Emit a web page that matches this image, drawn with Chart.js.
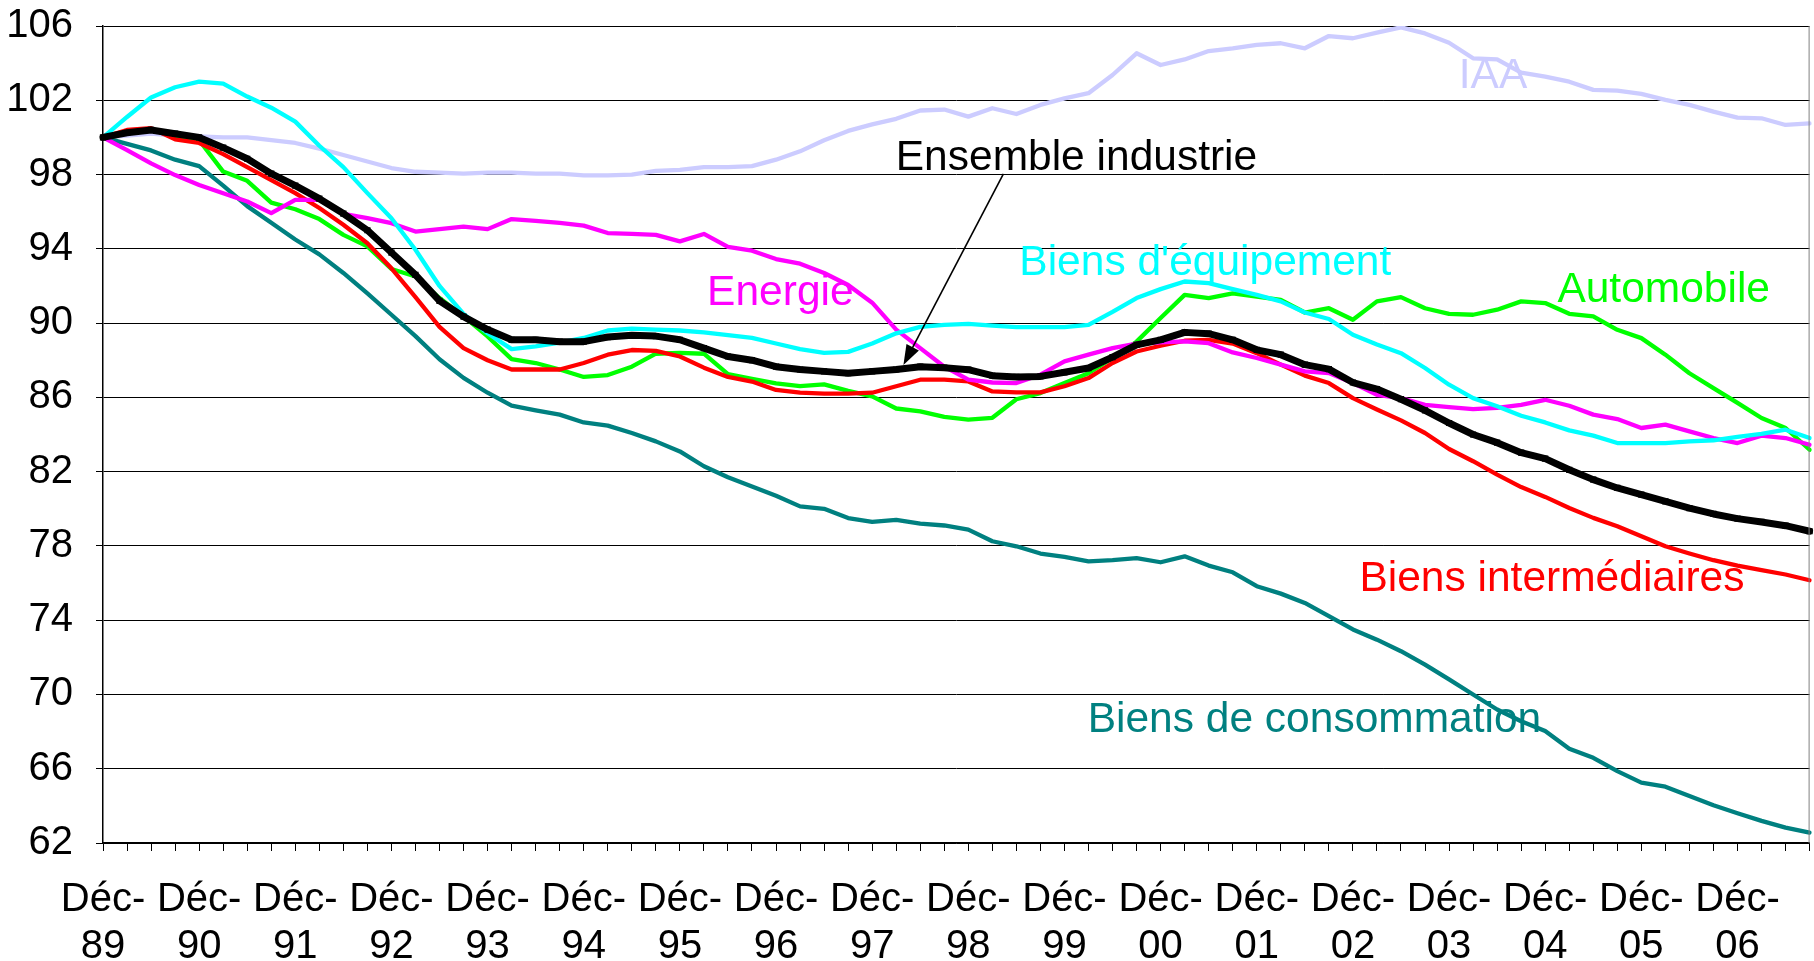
<!DOCTYPE html>
<html>
<head>
<meta charset="utf-8">
<script src="https://cdn.jsdelivr.net/npm/chart.js@4.4.1/dist/chart.umd.min.js"></script>
<style>
  html, body { margin: 0; padding: 0; background: #ffffff; }
  #wrap { width: 1814px; height: 961px; }
</style>
</head>
<body>
<div id="wrap"><canvas id="c" width="1814" height="961"></canvas></div>
<script>
// Quarterly categories, Déc-89 .. Sept-07
const categories = [
  'Déc-89','Mars-90','Juin-90','Sept-90','Déc-90','Mars-91','Juin-91','Sept-91',
  'Déc-91','Mars-92','Juin-92','Sept-92','Déc-92','Mars-93','Juin-93','Sept-93',
  'Déc-93','Mars-94','Juin-94','Sept-94','Déc-94','Mars-95','Juin-95','Sept-95',
  'Déc-95','Mars-96','Juin-96','Sept-96','Déc-96','Mars-97','Juin-97','Sept-97',
  'Déc-97','Mars-98','Juin-98','Sept-98','Déc-98','Mars-99','Juin-99','Sept-99',
  'Déc-99','Mars-00','Juin-00','Sept-00','Déc-00','Mars-01','Juin-01','Sept-01',
  'Déc-01','Mars-02','Juin-02','Sept-02','Déc-02','Mars-03','Juin-03','Sept-03',
  'Déc-03','Mars-04','Juin-04','Sept-04','Déc-04','Mars-05','Juin-05','Sept-05',
  'Déc-05','Mars-06','Juin-06','Sept-06','Déc-06','Mars-07','Juin-07','Sept-07'
];

// Labels shown on the x axis (December of each year)
const tickLabels = ['Déc-89','Déc-90','Déc-91','Déc-92','Déc-93','Déc-94','Déc-95','Déc-96','Déc-97',
  'Déc-98','Déc-99','Déc-00','Déc-01','Déc-02','Déc-03','Déc-04','Déc-05','Déc-06'];

const yTicks = [62, 66, 70, 74, 78, 82, 86, 90, 94, 98, 102, 106];

const ensembleIndustrie = [
  100, 100.25, 100.4, 100.2, 100.0, 99.45, 98.85, 98.05,
  97.4, 96.7, 95.9, 95.0, 93.8, 92.6, 91.2, 90.35,
  89.65, 89.1, 89.1, 89.0, 89.0, 89.25, 89.35, 89.3,
  89.1, 88.65, 88.2, 88.0, 87.65, 87.5, 87.4, 87.3,
  87.4, 87.5, 87.65, 87.6, 87.49, 87.17, 87.1, 87.13,
  87.35, 87.58, 88.17, 88.83, 89.1, 89.5, 89.43, 89.1,
  88.56, 88.3, 87.76, 87.52, 86.8, 86.45, 85.9, 85.3,
  84.62, 84.0, 83.56, 83.02, 82.7, 82.1, 81.57, 81.12,
  80.76, 80.4, 80.04, 79.72, 79.47, 79.29, 79.09, 78.79
];

const biensEquipement = [
  100, 101.1, 102.15, 102.7, 103.0, 102.9, 102.2, 101.6,
  100.85, 99.55, 98.4, 97.0, 95.65, 93.95, 92.0, 90.5,
  89.45, 88.6, 88.75, 88.95, 89.2, 89.6, 89.7, 89.65,
  89.6, 89.5, 89.35, 89.2, 88.9, 88.6, 88.4, 88.45,
  88.9, 89.45, 89.8, 89.9, 89.96, 89.86, 89.78, 89.78,
  89.78, 89.9, 90.6, 91.35, 91.83, 92.24, 92.15, 91.83,
  91.52, 91.17, 90.57, 90.22, 89.37, 88.85, 88.38, 87.58,
  86.68, 85.96, 85.52, 85.01, 84.65, 84.22, 83.94, 83.54,
  83.54, 83.54, 83.63, 83.69, 83.87, 84.03, 84.26, 83.81
];

const biensIntermediaires = [
  100, 100.4, 100.5, 99.9, 99.7, 99.1, 98.4, 97.7,
  97.0, 96.2, 95.3, 94.3, 92.95, 91.4, 89.8, 88.65,
  88.0, 87.5, 87.5, 87.5, 87.85, 88.3, 88.55, 88.5,
  88.2, 87.6, 87.1, 86.85, 86.4, 86.25, 86.2, 86.2,
  86.25, 86.6, 86.95, 86.95, 86.86, 86.32, 86.27, 86.27,
  86.6, 87.04, 87.85, 88.47, 88.78, 89.05, 89.1, 88.9,
  88.38, 87.76, 87.17, 86.77, 85.96, 85.35, 84.76, 84.08,
  83.22, 82.56, 81.84, 81.17, 80.64, 80.04, 79.51, 79.06,
  78.52, 77.98, 77.59, 77.23, 76.94, 76.69, 76.46, 76.15
];

const energie = [
  100, 99.32, 98.6, 97.97, 97.44, 96.99, 96.55, 95.92,
  96.64, 96.64, 95.88, 95.65, 95.38, 94.93, 95.06, 95.2,
  95.06, 95.6, 95.5, 95.4, 95.25, 94.85, 94.8, 94.75,
  94.4, 94.8, 94.1, 93.9, 93.45, 93.2, 92.7, 92.05,
  91.1, 89.65, 88.65, 87.65, 86.95, 86.8, 86.77, 87.22,
  87.94, 88.3, 88.65, 88.9, 88.96, 89.01, 88.92, 88.42,
  88.12, 87.76, 87.4, 87.31, 86.77, 86.14, 85.96, 85.6,
  85.48, 85.37, 85.43, 85.6, 85.87, 85.55, 85.07, 84.83,
  84.35, 84.53, 84.17, 83.81, 83.54, 83.94, 83.81, 83.45
];

const automobile = [
  100, 100.25, 100.4, 100.1, 99.85, 98.16, 97.66, 96.49,
  96.13, 95.6, 94.75, 94.13, 92.91, 92.51, 91.35, 90.36,
  89.28, 88.06, 87.85, 87.5, 87.1, 87.2, 87.65, 88.35,
  88.4, 88.35, 87.25, 87.0, 86.75, 86.6, 86.7, 86.35,
  86.05, 85.4, 85.25, 84.95, 84.8, 84.9, 85.9, 86.23,
  86.77, 87.3, 88.12, 89.0, 90.27, 91.52, 91.35, 91.6,
  91.43, 91.25, 90.57, 90.8, 90.18, 91.17, 91.4, 90.8,
  90.5, 90.45, 90.72, 91.17, 91.08, 90.5, 90.36, 89.64,
  89.19, 88.3, 87.3, 86.5, 85.7, 84.89, 84.35, 83.18
];

const biensConsommation = [
  100, 99.65, 99.3, 98.8, 98.45, 97.4, 96.3, 95.4,
  94.5, 93.7, 92.7, 91.6, 90.45, 89.3, 88.05, 87.05,
  86.25, 85.55, 85.3, 85.07, 84.65, 84.48, 84.08, 83.63,
  83.09, 82.29, 81.7, 81.2, 80.7, 80.13, 80.0, 79.5,
  79.3, 79.4, 79.2, 79.1, 78.88, 78.25, 77.98, 77.59,
  77.41, 77.17, 77.23, 77.34, 77.12, 77.44, 76.94, 76.58,
  75.83, 75.43, 74.93, 74.22, 73.5, 72.95, 72.33, 71.61,
  70.81, 70.0, 69.19, 68.56, 68.03, 67.08, 66.59, 65.87,
  65.25, 65.03, 64.53, 64.03, 63.6, 63.19, 62.83, 62.56
];

const iaa = [
  100, 100.1, 100.2, 100.1, 100.05, 100.0, 100.0, 99.85,
  99.7, 99.4, 99.05, 98.7, 98.35, 98.15, 98.1, 98.05,
  98.1, 98.1, 98.05, 98.05, 97.95, 97.95, 98.0, 98.2,
  98.25, 98.4, 98.4, 98.45, 98.8, 99.25, 99.85, 100.35,
  100.7, 101.0, 101.45, 101.5, 101.12, 101.57, 101.26, 101.75,
  102.1, 102.38, 103.36, 104.53, 103.9, 104.2, 104.65, 104.8,
  104.98, 105.07, 104.8, 105.46, 105.34, 105.64, 105.93, 105.6,
  105.1, 104.26, 104.2, 103.49, 103.27, 103.0, 102.56, 102.52,
  102.34, 102.02, 101.75, 101.39, 101.07, 101.03, 100.67, 100.76
];

const FONT = "'Liberation Sans', Arial, sans-serif";

function line(label, data, color, width) {
  return {
    label, data,
    borderColor: color, backgroundColor: color,
    borderWidth: width, pointRadius: 0, pointHoverRadius: 0,
    tension: 0, borderJoinStyle: 'round', borderCapStyle: 'round', fill: false
  };
}

// first dataset is drawn on top
const datasets = [
  Object.assign(line('Ensemble industrie', ensembleIndustrie, '#000000', 7), {
    pointRadius: 4.4, pointStyle: 'rect', pointBackgroundColor: '#000000', pointBorderWidth: 0
  }),
  line("Biens d'équipement", biensEquipement, '#00FFFF', 4.3),
  line('Energie', energie, '#FF00FF', 4.3),
  line('Biens intermédiaires', biensIntermediaires, '#FF0000', 4.3),
  line('Automobile', automobile, '#00FF00', 4.3),
  line('Biens de consommation', biensConsommation, '#008080', 4.3),
  line('IAA', iaa, '#CCCCFF', 4.3)
];

// Annotation texts anchored in data coordinates (category index, value at text baseline)
const annotations = [
  { text: 'IAA', color: '#CCCCFF', at: [57.83, 102.65] },
  { text: 'Ensemble industrie', color: '#000000', at: [40.5, 98.25] },
  { text: 'Energie', color: '#FF00FF', at: [28.18, 90.98] },
  { text: "Biens d'équipement", color: '#00FFFF', at: [45.86, 92.59] },
  { text: 'Automobile', color: '#00FF00', at: [64.93, 91.15] },
  { text: 'Biens intermédiaires', color: '#FF0000', at: [60.28, 75.59] },
  { text: 'Biens de consommation', color: '#008080', at: [50.4, 68.0] }
];
const arrowFrom = [37.46, 98.03];
const arrowTo = [33.3, 87.74];

const overlay = {
  id: 'overlay',
  afterDatasetsDraw(chart) {
    const { ctx, chartArea, scales: { x, y } } = chart;
    ctx.save();
    // right border of plot area
    ctx.strokeStyle = '#808080';
    ctx.lineWidth = 1;
    ctx.beginPath();
    ctx.moveTo(chartArea.right - 0.5, chartArea.top);
    ctx.lineTo(chartArea.right - 0.5, chartArea.bottom);
    ctx.stroke();

    // texts
    ctx.font = '42.5px ' + FONT;
    ctx.textAlign = 'center';
    ctx.textBaseline = 'alphabetic';
    annotations.forEach(a => {
      ctx.fillStyle = a.color;
      ctx.fillText(a.text, x.getPixelForValue(a.at[0]), y.getPixelForValue(a.at[1]));
    });

    // arrow
    const x1 = x.getPixelForValue(arrowFrom[0]), y1 = y.getPixelForValue(arrowFrom[1]);
    const x2 = x.getPixelForValue(arrowTo[0]), y2 = y.getPixelForValue(arrowTo[1]);
    const ang = Math.atan2(y2 - y1, x2 - x1);
    const hl = 20, hw = 7;
    ctx.strokeStyle = '#000';
    ctx.lineWidth = 1.6;
    ctx.beginPath();
    ctx.moveTo(x1, y1);
    ctx.lineTo(x2 - Math.cos(ang) * hl * 0.8, y2 - Math.sin(ang) * hl * 0.8);
    ctx.stroke();
    ctx.fillStyle = '#000';
    ctx.beginPath();
    ctx.moveTo(x2, y2);
    ctx.lineTo(x2 - Math.cos(ang) * hl - Math.sin(ang) * hw, y2 - Math.sin(ang) * hl + Math.cos(ang) * hw);
    ctx.lineTo(x2 - Math.cos(ang) * hl + Math.sin(ang) * hw, y2 - Math.sin(ang) * hl - Math.cos(ang) * hw);
    ctx.closePath();
    ctx.fill();
    ctx.restore();
  }
};

new Chart(document.getElementById('c'), {
  type: 'line',
  data: { labels: categories, datasets },
  options: {
    responsive: false,
    animation: false,
    devicePixelRatio: 1,
    layout: { padding: { top: 26, right: 0, left: 0, bottom: 0 } },
    plugins: { legend: { display: false }, tooltip: { enabled: false } },
    scales: {
      x: {
        type: 'category',
        offset: false,
        grid: { display: true, drawOnChartArea: false, drawTicks: true, tickLength: 8, color: '#000000', lineWidth: 1 },
        border: { display: true, color: '#000000', width: 1.5 },
        ticks: {
          autoSkip: false, maxRotation: 0, minRotation: 0, padding: 26,
          color: '#000000',
          font: { family: FONT, size: 40, lineHeight: 1.17 },
          callback: function (value, index) {
            const lab = categories[index];
            return tickLabels.includes(lab) ? [lab.slice(0, 4), lab.slice(4)] : '';
          }
        },
        afterFit: (s) => { s.height = 118; s.paddingLeft = 0; s.paddingRight = 0; }
      },
      y: {
        min: 62, max: 106,
        afterBuildTicks: (s) => { s.ticks = yTicks.map(v => ({ value: v })); },
        grid: { color: '#000000', lineWidth: 1, drawTicks: true, tickLength: 7 },
        border: { display: true, color: '#000000', width: 1.5 },
        ticks: {
          padding: 23, color: '#000000',
          font: { family: FONT, size: 40 }
        },
        afterFit: (s) => { s.width = 103; s.paddingTop = 0; s.paddingBottom = 0; }
      }
    }
  },
  plugins: [overlay]
});
</script>
</body>
</html>
